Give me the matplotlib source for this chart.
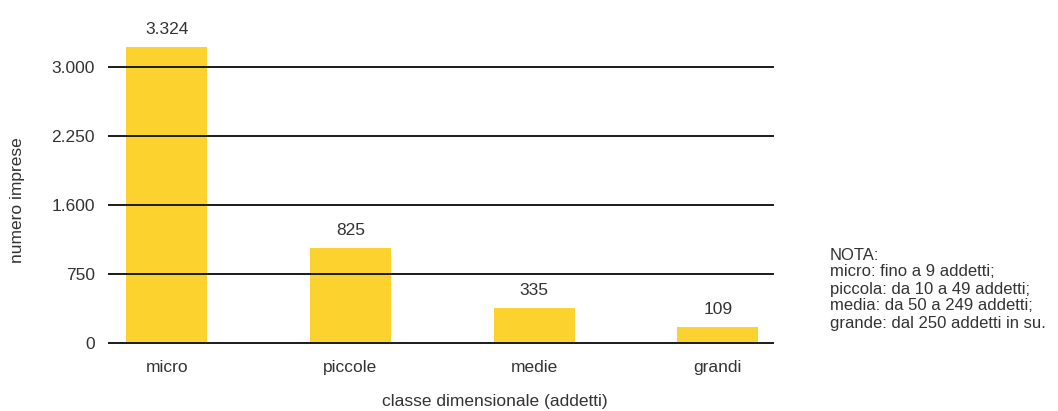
import matplotlib.pyplot as plt

plt.rcParams['font.family'] = ['Liberation Sans', 'DejaVu Sans']

categories = ["micro", "piccole", "medie", "grandi"]
# bar heights as drawn on the (uneven) axis
bar_heights = [3220, 1035, 380, 175]
value_labels = ["3.324", "825", "335", "109"]
ytick_pos = [0, 750, 1500, 2250, 3000]
ytick_labels = ["0", "750", "1.600", "2.250", "3.000"]
note_lines = ["NOTA:",
              "micro: fino a 9 addetti;",
              "piccola: da 10 a 49 addetti;",
              "media: da 50 a 249 addetti;",
              "grande: dal 250 addetti in su."]

text_col = "#333333"
bar_col = "#FCD22E"
fs = 12.5

fig = plt.figure(figsize=(10.58, 4.11), dpi=100)
ax = fig.add_axes([109 / 1058, 1 - 343 / 411, (773 - 109) / 1058, (343 - 30) / 411])

x = list(range(len(categories)))
ax.bar(x, bar_heights, width=0.44, color=bar_col, zorder=1)

for t in ytick_pos:
    ax.axhline(t, color="#1a1a1a", lw=1.4, zorder=2, clip_on=False)

for xi, h, lab in zip(x, bar_heights, value_labels):
    ax.annotate(lab, (xi, h), xytext=(0, 12.5), textcoords="offset points",
                ha="center", va="center", fontsize=fs, color=text_col)

ax.set_xlim(-0.315, 3.3)
ax.set_ylim(0, 3400)
ax.set_yticks(ytick_pos)
ax.set_yticklabels(ytick_labels)
ax.set_xticks(x)
ax.set_xticklabels(categories)
ax.tick_params(axis="both", length=0, labelsize=fs, labelcolor=text_col)
ax.tick_params(axis="x", pad=12)
ax.tick_params(axis="y", pad=10)
for s in ax.spines.values():
    s.set_visible(False)

fig.text(18 / 1058, 1 - 200 / 411, "numero imprese", rotation=90,
         ha="center", va="center", fontsize=fs, color=text_col)
fig.text(495 / 1058, 1 - 401 / 411, "classe dimensionale (addetti)",
         ha="center", va="center", fontsize=fs, color=text_col)

for i, line in enumerate(note_lines):
    fig.text(830 / 1058, 1 - (255 + i * 17) / 411, line, ha="left", va="center",
             fontsize=12, color=text_col)

fig.savefig("out.png", dpi=100)
